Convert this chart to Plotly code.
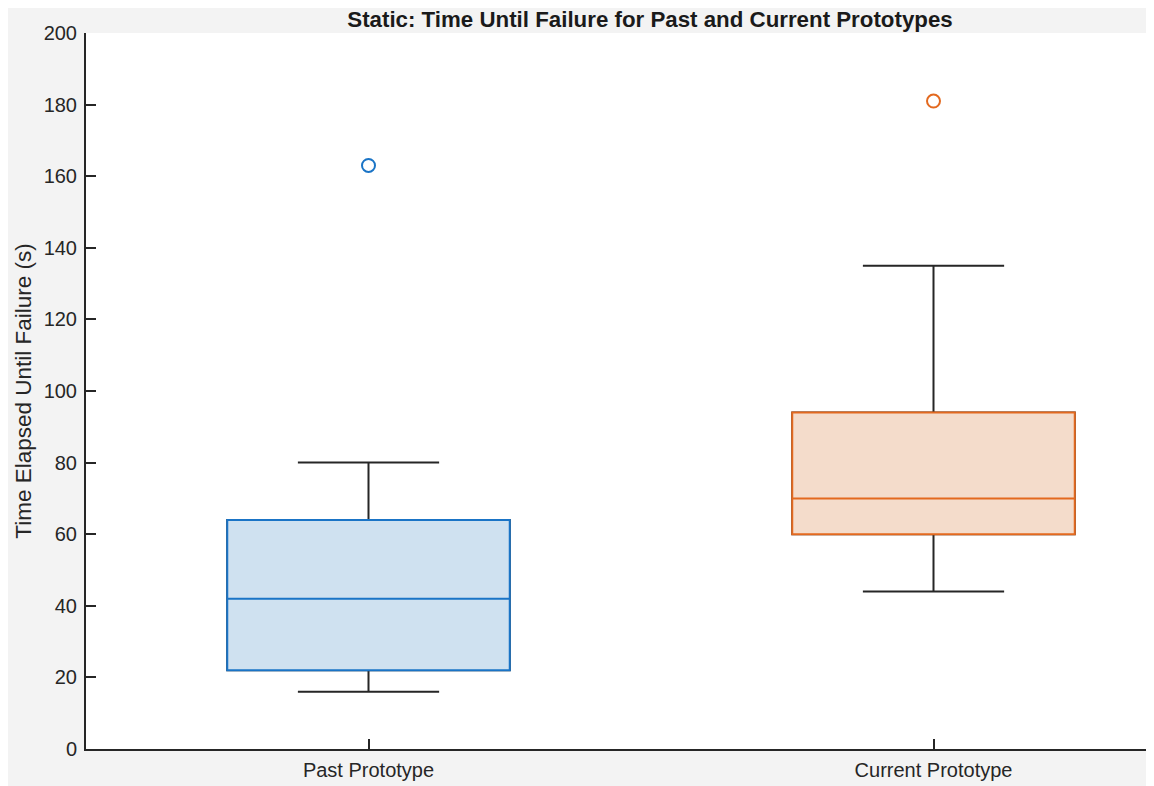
import plotly.graph_objects as go

categories = ["Past Prototype", "Current Prototype"]
lower_whisker = [16, 44]
q1_values = [22, 60]
median_values = [42, 70]
q3_values = [64, 94]
upper_whisker = [80, 135]
outliers = [163, 181]
y_ticks = [0, 20, 40, 60, 80, 100, 120, 140, 160, 180, 200]

line_colors = ["#1A74C6", "#E3691F"]
fill_colors = ["#cfe1f0", "#f4dccb"]
dark = "#262626"
font_family = "Liberation Sans, Arial, sans-serif"

W, H = 1154, 778

fig = go.Figure()

for i, cat in enumerate(categories):
    # whiskers (dark)
    fig.add_trace(go.Box(
        x=[cat], q1=[q1_values[i]], median=[median_values[i]], q3=[q3_values[i]],
        lowerfence=[lower_whisker[i]], upperfence=[upper_whisker[i]],
        width=0.5, whiskerwidth=0.5,
        line=dict(color=dark, width=2), fillcolor="rgba(0,0,0,0)",
        showlegend=False, hoverinfo="skip",
    ))
    # coloured box
    fig.add_trace(go.Box(
        x=[cat], q1=[q1_values[i]], median=[median_values[i]], q3=[q3_values[i]],
        lowerfence=[q1_values[i]], upperfence=[q3_values[i]],
        width=0.5, whiskerwidth=0,
        line=dict(color=line_colors[i], width=2), fillcolor=fill_colors[i],
        showlegend=False,
    ))
    # outlier
    fig.add_trace(go.Scatter(
        x=[cat], y=[outliers[i]], mode="markers",
        marker=dict(symbol="circle-open", size=13, color=line_colors[i],
                    line=dict(width=2, color=line_colors[i])),
        showlegend=False,
    ))

plot_w = W - 78
fig.update_layout(
    width=W, height=H,
    margin=dict(l=78, r=0, t=25, b=H + 8 - 749),
    paper_bgcolor="#f3f3f3", plot_bgcolor="white",
    boxmode="overlay",
    font=dict(family=font_family, size=20, color=dark),
    title=dict(
        text="<b>Static: Time Until Failure for Past and Current Prototypes</b>",
        x=(650 - 86) / plot_w, xref="paper", xanchor="center",
        y=1 - 11 / H, yref="container", yanchor="middle",
        font=dict(family=font_family, size=22.3, color="#1a1a1a"),
    ),
    xaxis=dict(
        type="category", categoryorder="array", categoryarray=categories,
        range=[-0.5, -0.5 + plot_w / 565.0], showgrid=False, zeroline=False,
        showline=True, linecolor=dark, linewidth=2,
        ticks="inside", ticklen=10, tickwidth=2, tickcolor=dark,
        tickfont=dict(size=20, color=dark), automargin=False,
        ticklabelstandoff=2,
    ),
    yaxis=dict(
        range=[0, 200], tickvals=y_ticks, showgrid=False, zeroline=False,
        showline=True, linecolor=dark, linewidth=2,
        ticks="inside", ticklen=10, tickwidth=2, tickcolor=dark,
        tickfont=dict(size=20, color=dark), automargin=False,
        ticklabelstandoff=3,
        title=dict(text="Time Elapsed Until Failure (s)", standoff=6,
                   font=dict(size=22.5, color=dark)),
    ),
)

fig.write_html("out.html")
